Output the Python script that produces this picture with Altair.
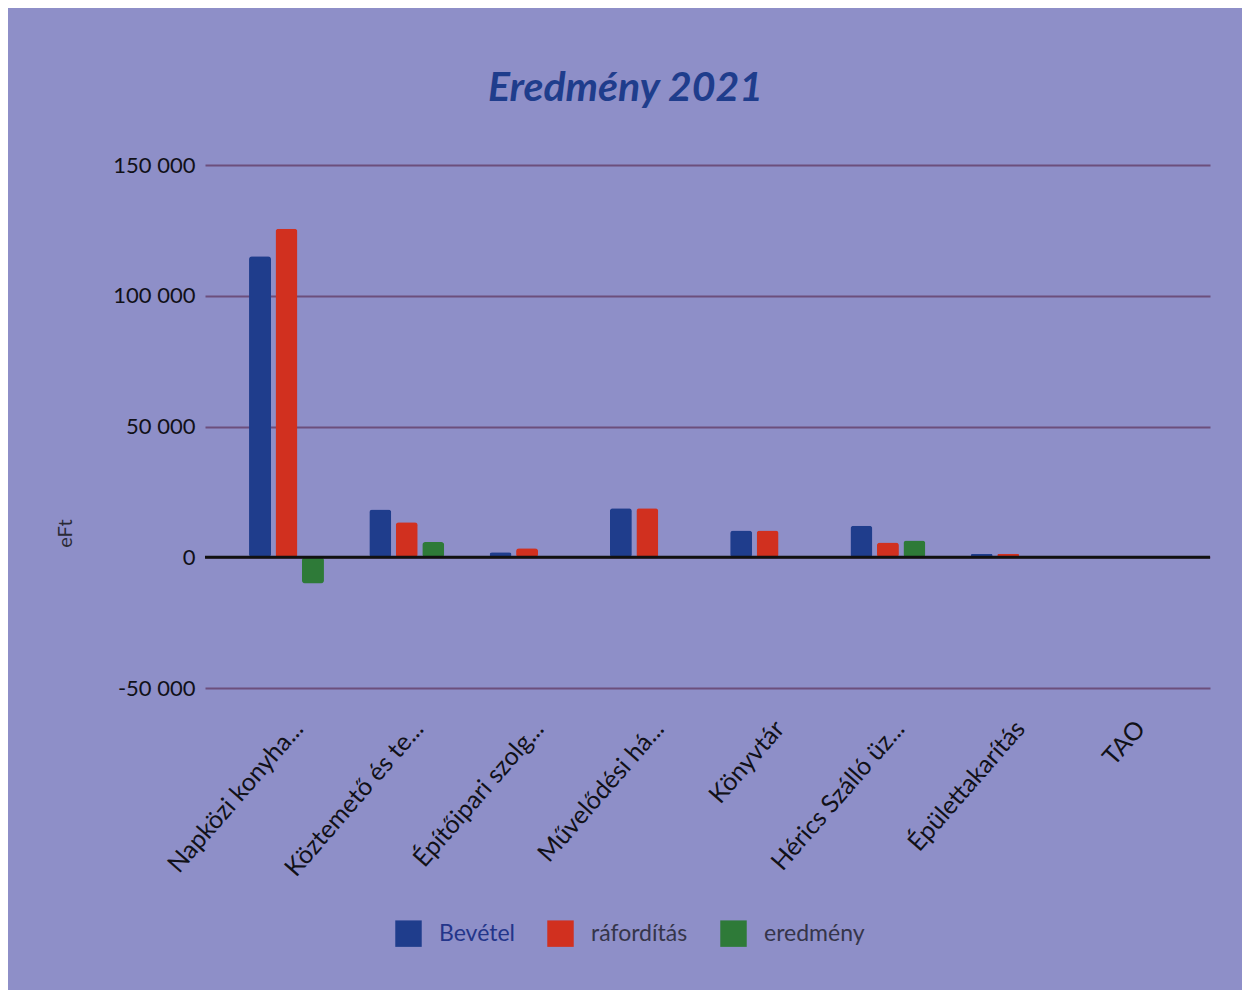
import altair as alt
import pandas as pd

categories = ["Napközi konyha...", "Köztemető és te...", "Építőipari szolg...",
              "Művelődési  há...", "Könyvtár", "Hérics Szálló üz...",
              "Épülettakarítás", "TAO"]
series = ["Bevétel", "ráfordítás", "eredmény"]
bevetel = [115100, 18300, 1900, 18700, 10200, 12000, 1200, 0]
raforditas = [125600, 13400, 3400, 18700, 10200, 5600, 1300, 0]
eredmeny = [-10000, 5800, 200, 0, 0, 6400, 0, 300]
colors = ["#1f3d8c", "#d1301f", "#2e7a38"]
y_ticks = [-50000, 0, 50000, 100000, 150000]

rows = []
for i, c in enumerate(categories):
    for s, vals in zip(series, [bevetel, raforditas, eredmeny]):
        rows.append({"kat": c, "sorozat": s, "ertek": vals[i]})
df = pd.DataFrame(rows)
zero_df = pd.DataFrame({"v": [0]})

FONT = "Lato"

bars = alt.Chart(df).mark_bar(cornerRadius=3).encode(
    x=alt.X("kat:N", sort=categories, title=None,
            scale=alt.Scale(paddingInner=0.377, paddingOuter=0.366),
            axis=alt.Axis(labelAngle=-49, labelFontSize=25, labelFont=FONT,
                          labelColor="#111118", domain=False, ticks=False,
                          labelPadding=36, labelOffset=12, labelLimit=320)),
    xOffset=alt.XOffset("sorozat:N", sort=series,
                        scale=alt.Scale(paddingInner=0.17, paddingOuter=0)),
    y=alt.Y("ertek:Q", title="eFt",
            scale=alt.Scale(domain=[-50000, 150000], nice=False),
            axis=alt.Axis(values=y_ticks, domain=False, ticks=False,
                          labelExpr="replace(replace(format(datum.value, ','), /,/g, ' '), '\u2212', '-')",
                          labelFontSize=22, labelFont=FONT, labelColor="#111118",
                          labelPadding=10,
                          gridColor="#6c4f7c", gridWidth=2, gridOpacity=1,
                          titleFont=FONT, titleFontSize=20, titleFontWeight="normal",
                          titleColor="#2a2a35", titleX=-140, titleY=368,
                          titleAngle=-90, titleBaseline="middle")),
    color=alt.Color("sorozat:N", sort=series,
                    scale=alt.Scale(domain=series, range=colors),
                    legend=alt.Legend(title=None, orient="none", direction="horizontal",
                                      legendX=190, legendY=755, padding=0,
                                      symbolType="square", symbolSize=700,
                                      symbolStrokeWidth=0, symbolOpacity=1,
                                      labelFont=FONT, labelFontSize=23,
                                      labelOffset=17, columnPadding=32,
                                      labelColor=alt.ExprRef("datum.label == 'Bevétel' ? '#23358a' : '#35354a'"))),
)

zero = alt.Chart(zero_df).mark_rule(color="#111111", strokeWidth=3).encode(y="v:Q")

chart = alt.layer(bars, zero).properties(
    width=1005, height=523,
    background="#8e8fc8",
    padding={"left": 197, "top": 157, "right": 32, "bottom": 302},
    autosize=alt.AutoSizeParams(type="none"),
    title=alt.TitleParams("Eredmény 2021", font=FONT, fontSize=41, fontWeight="bold",
                          fontStyle="italic", color="#1f3d8c", anchor="middle",
                          dx=-82, offset=44),
).configure_view(stroke=None)

chart.save("out.html", embed_options={"renderer": "svg", "actions": False})
